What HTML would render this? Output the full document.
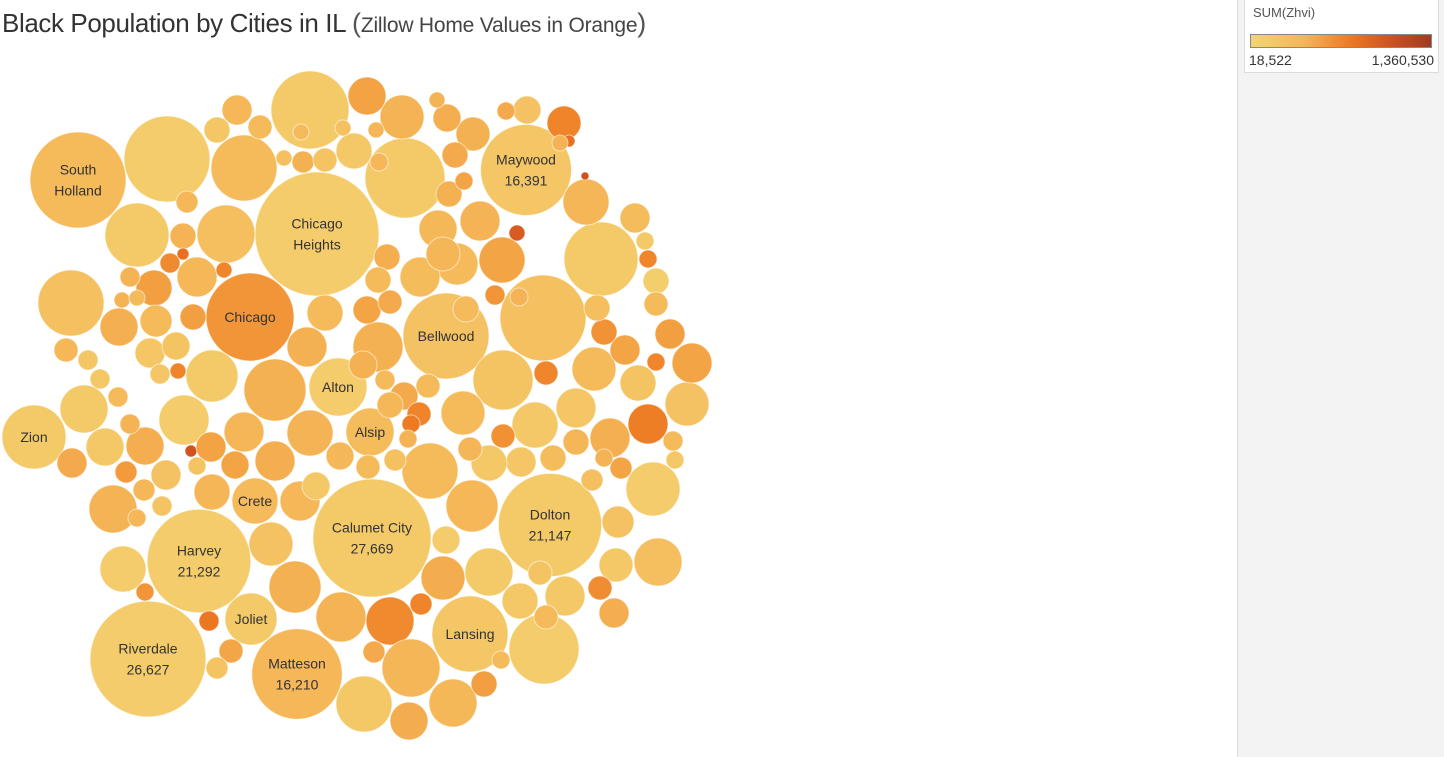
<!DOCTYPE html>
<html><head><meta charset="utf-8"><style>
html,body{margin:0;padding:0;background:#fff;width:1444px;height:757px;overflow:hidden;font-family:"Liberation Sans",sans-serif;}
#title{position:absolute;left:2px;top:8px;font-size:26px;color:#333;white-space:nowrap;letter-spacing:-0.4px}
#title span{font-size:21px;color:#444;letter-spacing:-0.2px}
#title b{font-weight:normal;font-size:27px;color:#555}
#panel{position:absolute;left:1237px;top:0;width:207px;height:757px;background:#f3f3f3;border-left:1px solid #dcdcdc}
#legend{position:absolute;left:1244px;top:0;width:193px;height:72px;background:#fff;border:1px solid #dcdcdc;border-top:none}
#lt{position:absolute;left:8px;top:5px;font-size:13px;color:#555}
#lbar{position:absolute;left:5px;top:34px;width:182px;height:14px;border:1px solid #888;box-sizing:border-box;background:linear-gradient(to right,#F3D572,#F6B45A 30%,#EE7A22 55%,#D4551F 75%,#A03A22)}
#lmin{position:absolute;left:4px;top:52px;font-size:14px;color:#333}
#lmax{position:absolute;right:4px;top:52px;font-size:14px;color:#333}
svg{position:absolute;left:0;top:0}
</style></head><body>
<div id="title">Black Population by Cities in IL <span><b>(</b>Zillow Home Values in Orange<b>)</b></span></div>
<div id="panel"></div>
<div id="legend">
<div id="lt">SUM(Zhvi)</div>
<div id="lbar"></div>
<div id="lmin">18,522</div>
<div id="lmax">1,360,530</div>
</div>
<svg id="chart" width="1237" height="757"></svg>
<script>
// Data
const cities = ["South|Holland","","","Chicago|Heights","","Maywood","","","","Chicago","","Bellwood","","","","Alton","Alsip","","","","","Zion","","","Crete","","Calumet City","Dolton","","Harvey","","","","","","Riverdale","Joliet","Matteson","","Lansing"];
const showPopulation = [5,26,27,29,35,37];
const population = [
18272,14663,12062,30483,12688,16391,8636,8120,6669,15352,
8636,14663,14663,10856,7621,6669,4568,5361,4956,7137,
4195,8120,4568,6217,4195,4568,27669,21147,5361,21292,
4195,3838,5361,3838,4568,26627,5361,16210,4568,11451,
9714,4956,6669,6217,4568,2863,5781,4568,3838,3172,
3172,3838,4195,4195,3497,3172,3172,2863,2292,3838,
2863,2292,2569,2569,2863,2863,3172,4195,3172,3172,
3838,3172,3172,2030,2292,3172,1784,2569,1784,1340,
1784,2569,1784,1340,1554,1554,1784,1142,1340,1340,
3172,793,1340,2030,1784,1142,2863,1784,960,1784,
285,1784,1554,2569,793,1142,960,1554,4956,1554,
2569,3172,1554,1142,642,2292,1784,2569,1142,1142,
1340,960,960,960,1340,1340,793,285,508,508,
285,127,508,642,642,1142,1554,793,793,793,
793,642,960,793,642,642,1554,1142,1554,1142,
1142,960,1340,1340,1340,1142,1340,1340,960,960,
642,1142,1142,1554,1142,1340,642,642,1142,793,
642,1340,642,508,642,642,508,508,508,508,
508,508,793,793,960,508,642,793,642];
const zhvi = [
150,60,70,60,70,90,150,70,130,450,
120,110,120,70,220,60,140,70,60,100,
80,70,70,150,150,200,70,70,170,60,
60,110,220,260,70,60,70,170,520,90,
60,200,180,80,160,260,60,130,110,600,
330,150,180,330,150,200,140,160,560,200,
350,220,80,380,240,250,180,200,250,170,
150,240,90,110,80,80,250,80,140,50,
380,100,330,470,110,250,170,150,90,200,
170,520,380,150,90,170,80,280,420,110,
1000,350,330,180,650,320,100,160,220,330,
150,220,280,560,620,180,90,80,550,500,
380,560,280,220,280,220,450,700,550,560,
700,1000,900,550,550,480,100,90,80,90,
200,100,170,100,170,450,80,150,220,280,
150,120,170,250,150,180,140,180,120,330,
200,100,150,60,100,150,200,70,150,150,
80,130,280,200,330,170,120,180,150,120,
200,150,150,200,170,200,200,150,150].map(v=>v*1000);
// Precomputed pack layout (centres)
const packX = [78,167,310,317,405,526,244,137,226,250,71,446,543,601,275,338,370,212,184,503,535,34,84,430,255,113,372,550,472,199,123,271,295,443,489,148,251,297,390,470,544,341,411,364,453,409,653,658,687,648,692,594,586,502,457,480,420,438,564,402,367,473,354,154,119,145,244,310,275,300,463,610,576,618,616,565,614,520,635,656,670,638,625,604,527,447,237,260,217,183,197,170,193,156,150,66,105,72,126,166,191,211,235,212,209,231,217,340,378,367,325,307,404,419,411,443,521,489,546,600,484,421,374,303,455,449,495,183,224,178,569,585,517,648,656,503,176,88,100,160,130,197,144,162,137,145,316,368,363,390,428,395,390,387,378,470,553,576,592,621,604,540,546,446,325,466,519,645,656,673,675,597,506,437,464,379,343,376,301,284,122,137,118,130,187,560,408,385,501];
const packY = [180,159,110,234,178,170,168,235,234,317,303,336,318,259,390,387,432,376,420,380,425,437,409,471,501,509,538,525,506,561,569,544,587,578,572,659,619,674,621,634,649,617,668,704,703,721,489,562,404,424,363,369,202,260,264,221,277,229,123,117,96,134,151,288,327,446,432,433,461,501,413,438,408,522,565,596,613,601,218,281,334,383,350,332,110,118,110,127,130,236,277,263,317,321,353,350,447,463,472,475,451,447,465,492,621,651,668,456,347,310,313,347,396,414,424,254,462,463,373,588,684,604,652,162,155,194,295,254,270,371,141,176,233,259,362,436,346,360,379,374,424,466,490,506,518,592,486,467,365,302,386,460,405,257,280,449,458,442,480,468,458,573,617,540,160,309,297,241,304,441,460,308,111,100,181,162,128,130,132,158,300,298,397,277,202,143,439,380,660];

const MIN_Z = 18522, MAX_Z = 1360530;
const stops = [[0,[243,213,114]],[0.1,[245,185,90]],[0.3,[242,154,60]],[0.45,[238,122,34]],[0.7,[212,85,31]],[1,[160,58,34]]];
function color(z){
  const t = Math.max(0,Math.min(1,(z-MIN_Z)/(MAX_Z-MIN_Z)));
  for(let i=1;i<stops.length;i++){ if(t<=stops[i][0]){ const a=stops[i-1],b=stops[i],f=(t-a[0])/(b[0]-a[0]);
    return 'rgb('+a[1].map((c,k)=>Math.round(c+(b[1][k]-c)*f)).join(',')+')'; } }
  return 'rgb(160,58,34)';
}
function rScale(v){ return 0.355*Math.sqrt(v); }
const NS='http://www.w3.org/2000/svg';
const svg=document.getElementById('chart');
for(let i=0;i<population.length;i++){
  const c=document.createElementNS(NS,'circle');
  c.setAttribute('cx',packX[i]); c.setAttribute('cy',packY[i]);
  c.setAttribute('r',rScale(population[i]));
  c.setAttribute('fill',color(zhvi[i]));
  c.setAttribute('stroke','rgba(255,255,255,0.55)');
  c.setAttribute('stroke-width','1');
  
  
  svg.appendChild(c);
}
for(let i=0;i<cities.length;i++){
  if(!cities[i]) continue;
  const lines=cities[i].split('|');
  if(showPopulation.indexOf(i)>=0) lines.push(population[i].toLocaleString('en-US'));
  const t=document.createElementNS(NS,'text');
  t.setAttribute('text-anchor','middle');
  t.setAttribute('font-size','14');
  t.setAttribute('fill','#333');
  t.setAttribute('font-family','Liberation Sans, sans-serif');
  
  
  const y0=packY[i]-(lines.length-1)*10.5+5;
  lines.forEach((s,k)=>{const ts=document.createElementNS(NS,'tspan');ts.setAttribute('x',packX[i]);ts.setAttribute('y',y0+k*21);ts.textContent=s;t.appendChild(ts);});
  svg.appendChild(t);
}
</script>
</body></html>
